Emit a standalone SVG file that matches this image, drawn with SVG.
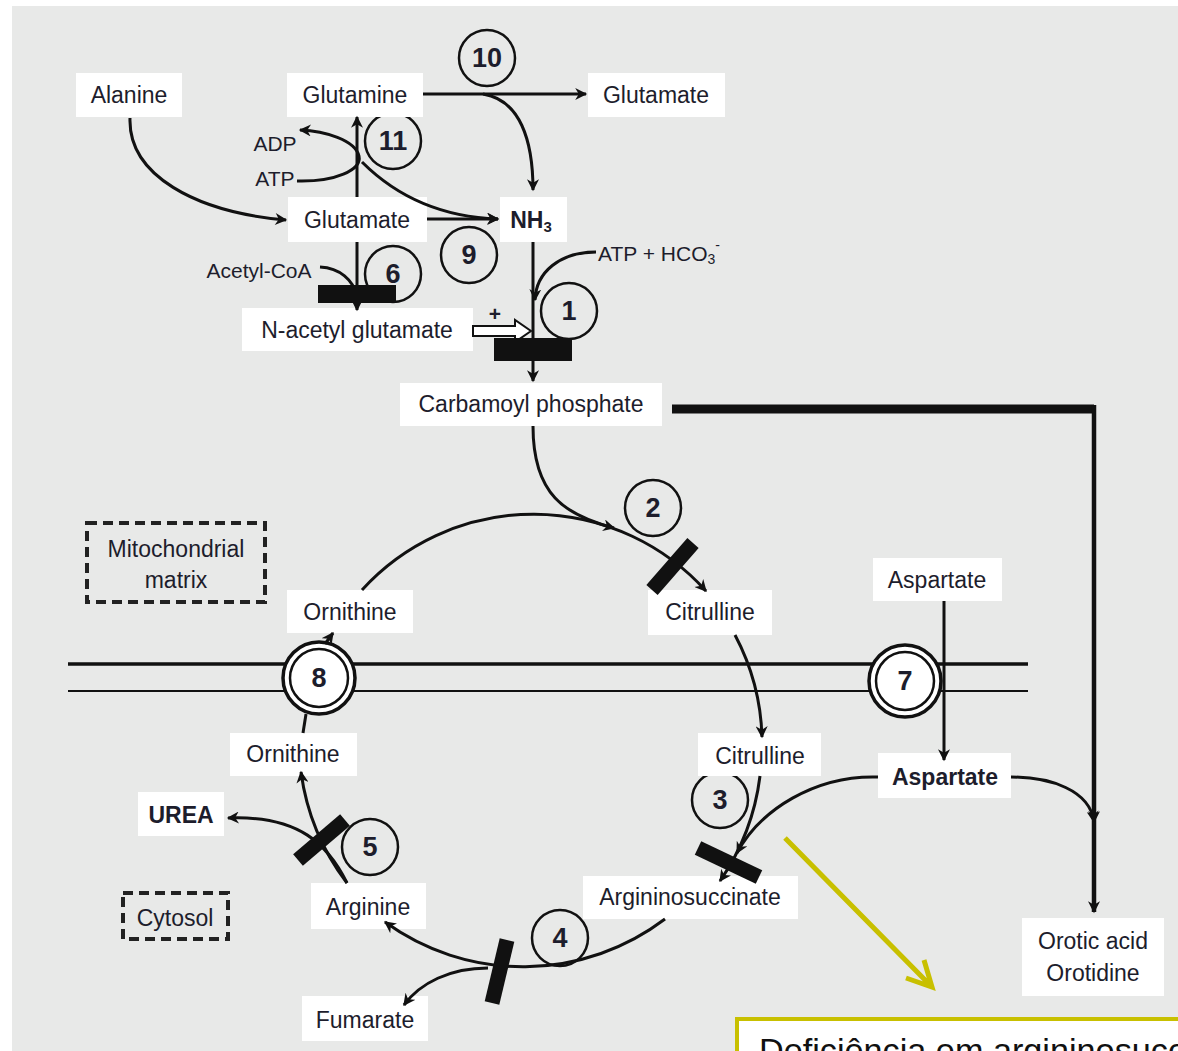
<svg xmlns="http://www.w3.org/2000/svg" width="1178" height="1051" viewBox="0 0 1178 1051">
<defs>
<marker id="ah" viewBox="0 0 10 10" refX="9" refY="5" markerWidth="13" markerHeight="12" markerUnits="userSpaceOnUse" orient="auto"><path d="M0,0 L10,5 L0,10 L3,5 z" fill="#111"/></marker>
<style>
.lbl{fill:#fff}
.t{font-family:"Liberation Sans",Arial,sans-serif;font-size:23px;fill:#1d1d2c;text-anchor:middle;dominant-baseline:central}
.b{font-weight:bold}
.s{font-size:21px}
.n{font-family:"Liberation Sans",Arial,sans-serif;font-size:27px;font-weight:bold;fill:#1d1d2c;text-anchor:middle;dominant-baseline:central}
.c{fill:none;stroke:#111;stroke-width:2.5}
.cw{fill:#fff;stroke:#111}
.ln{fill:none;stroke:#111;stroke-width:3}
.ar{marker-end:url(#ah)}
.bar{stroke:#111;stroke-width:15;stroke-linecap:butt}
.dash{fill:none;stroke:#222;stroke-width:4;stroke-dasharray:10 6}
</style>
</defs>
<rect x="0" y="0" width="1178" height="1051" fill="#fff"/>
<rect x="12" y="6" width="1166" height="1045" fill="#e8e9e8"/>

<!-- membrane -->
<g id="membrane">
<line x1="68" y1="664" x2="1028" y2="664" stroke="#111" stroke-width="3.5"/>
<line x1="68" y1="691" x2="1028" y2="691" stroke="#111" stroke-width="2"/>
</g>

<!-- enzyme circles -->
<g id="enz10"><circle cx="487" cy="58" r="28" class="c"/><text x="487" y="58" class="n">10</text></g>
<g id="enz11"><circle cx="393" cy="141" r="28" class="c"/><text x="393" y="141" class="n">11</text></g>
<g id="enz9"><circle cx="469" cy="255" r="28" class="c"/><text x="469" y="255" class="n">9</text></g>
<g id="enz6"><circle cx="393" cy="274" r="28" class="c"/><text x="393" y="274" class="n">6</text></g>
<g id="enz1"><circle cx="569" cy="311" r="28" class="c"/><text x="569" y="311" class="n">1</text></g>
<g id="enz2"><circle cx="653" cy="508" r="28" class="c"/><text x="653" y="508" class="n">2</text></g>
<g id="enz3"><circle cx="720" cy="800" r="28" class="c"/><text x="720" y="800" class="n">3</text></g>
<g id="enz4"><circle cx="560" cy="938" r="28" class="c"/><text x="560" y="938" class="n">4</text></g>
<g id="enz5"><circle cx="370" cy="847" r="28" class="c"/><text x="370" y="847" class="n">5</text></g>
<g id="enz8"><circle cx="319" cy="678" r="36" class="cw" stroke-width="3.5"/><circle cx="319" cy="678" r="29" class="cw" stroke-width="2.5"/><text x="319" y="678" class="n">8</text></g>
<g id="enz7"><circle cx="905" cy="681" r="36" class="cw" stroke-width="3.5"/><circle cx="905" cy="681" r="29" class="cw" stroke-width="2.5"/><text x="905" y="681" class="n">7</text></g>

<!-- nodes -->
<g id="alanine"><rect x="76" y="73" width="106" height="44" class="lbl"/><text x="129" y="95" class="t">Alanine</text></g>
<g id="glutamine"><rect x="287" y="73" width="136" height="44" class="lbl"/><text x="355" y="95" class="t">Glutamine</text></g>
<g id="glutamate-top"><rect x="588" y="73" width="137" height="44" class="lbl"/><text x="656" y="95" class="t">Glutamate</text></g>
<g id="glutamate-mid"><rect x="288" y="197" width="139" height="45" class="lbl"/><text x="357" y="220" class="t">Glutamate</text></g>
<g id="nh3"><rect x="500" y="197" width="67" height="45" class="lbl"/><text x="531" y="220" class="t b">NH<tspan font-size="15" dy="6">3</tspan></text></g>
<g id="adp"><text x="275" y="143" class="t s">ADP</text></g>
<g id="atp"><text x="275" y="178" class="t s">ATP</text></g>
<g id="acetylcoa"><text x="259" y="270" class="t s">Acetyl-CoA</text></g>
<g id="nag"><rect x="242" y="308" width="231" height="43" class="lbl"/><text x="357" y="330" class="t">N-acetyl glutamate</text></g>
<g id="plus"><text x="495" y="313" class="t b s">+</text></g>
<g id="atphco3"><text x="598" y="253" class="t s" style="text-anchor:start">ATP + HCO<tspan font-size="14" dy="6">3</tspan><tspan font-size="14" dy="-14">-</tspan></text></g>
<g id="carbamoyl"><rect x="400" y="383" width="262" height="43" class="lbl"/><text x="531" y="404" class="t">Carbamoyl phosphate</text></g>
<g id="mito"><rect x="87" y="523" width="178" height="79" class="dash"/><text x="176" y="549" class="t">Mitochondrial</text><text x="176" y="580" class="t">matrix</text></g>
<g id="ornithine-mito"><rect x="287" y="590" width="126" height="43" class="lbl"/><text x="350" y="612" class="t">Ornithine</text></g>
<g id="citrulline-mito"><rect x="648" y="590" width="124" height="45" class="lbl"/><text x="710" y="612" class="t">Citrulline</text></g>
<g id="aspartate-mito"><rect x="873" y="558" width="129" height="43" class="lbl"/><text x="937" y="580" class="t">Aspartate</text></g>
<g id="ornithine-cyto"><rect x="230" y="733" width="127" height="43" class="lbl"/><text x="293" y="754" class="t">Ornithine</text></g>
<g id="citrulline-cyto"><rect x="698" y="733" width="123" height="43" class="lbl"/><text x="760" y="756" class="t">Citrulline</text></g>
<g id="aspartate-cyto"><rect x="878" y="753" width="133" height="45" class="lbl"/><text x="945" y="777" class="t b">Aspartate</text></g>
<g id="urea"><rect x="138" y="792" width="86" height="44" class="lbl"/><text x="181" y="815" class="t b">UREA</text></g>
<g id="cytosol"><rect x="123" y="893" width="105" height="46" class="dash"/><text x="175" y="918" class="t">Cytosol</text></g>
<g id="arginine"><rect x="311" y="883" width="115" height="46" class="lbl"/><text x="368" y="907" class="t">Arginine</text></g>
<g id="argininosuccinate"><rect x="583" y="876" width="215" height="43" class="lbl"/><text x="690" y="897" class="t">Argininosuccinate</text></g>
<g id="orotic"><rect x="1022" y="918" width="142" height="78" class="lbl"/><text x="1093" y="941" class="t">Orotic acid</text><text x="1093" y="973" class="t">Orotidine</text></g>
<g id="fumarate"><rect x="302" y="996" width="126" height="45" class="lbl"/><text x="365" y="1020" class="t">Fumarate</text></g>

<!-- connectors -->
<g id="connectors">
<path d="M423,94 H586" class="ln ar"/>
<path d="M483,94 C 520,100 533,140 533,190" class="ln ar"/>
<path d="M130,118 C 128,175 195,212 286,220" class="ln ar"/>
<path d="M357,197 V117" class="ln ar"/>
<path d="M297,181 C 335,182 362,170 359,156 C 355,140 325,131 300,130" class="ln ar"/>
<path d="M362,162 C 395,195 440,217 498,219" class="ln ar"/>
<path d="M427,219 H498" class="ln ar"/>
<path d="M357,242 V310" class="ln ar"/>
<path d="M320,267 C 340,268 353,280 357,296" class="ln"/>
<path d="M533,242 V345" class="ln"/>
<path d="M596,252 C 560,252 536,272 535,300" class="ln ar"/>
<path d="M533,360 V381" class="ln ar"/>
<path d="M473,326 H515 V320 L531,331 L515,342 V336 H473 Z" fill="#fff" stroke="#111" stroke-width="2"/>
<path d="M533,426 C 533,495 565,515 614,528" class="ln ar"/>
<path d="M362,590 A 232 232 0 0 1 706,591" class="ln ar"/>
<path d="M735,635 A 232 232 0 0 1 762,737" class="ln ar"/>
<path d="M944,601 V760" class="ln ar"/>
<path d="M325,644 L333,633" class="ln ar"/>
<path d="M306,714 L303,733" class="ln"/>
<path d="M760,776 A 236 236 0 0 1 720,881" class="ln ar"/>
<path d="M878,777 C 815,775 760,810 737,853" class="ln ar"/>
<path d="M1011,777 C 1050,777 1090,790 1094,822" class="ln ar"/>
<path d="M672,409 H1094" fill="none" stroke="#111" stroke-width="9"/>
<path d="M1094,405 V822" fill="none" stroke="#111" stroke-width="4.5" marker-end="url(#ah)"/>
<path d="M1094,822 V912" fill="none" stroke="#111" stroke-width="4.5" marker-end="url(#ah)"/>
<path d="M665,919 A 235 235 0 0 1 385,922" class="ln ar"/>
<path d="M488,968 C 450,968 420,983 404,1005" class="ln ar"/>
<path d="M347,883 A 234 234 0 0 1 301,772" class="ln ar"/>
<path d="M347,883 C 328,845 300,815 228,818" class="ln ar"/>
<path d="M785,838 L930,985 M906,978 L932,987 L924,960" fill="none" stroke="#c8c000" stroke-width="5"/>
</g>

<!-- enzyme bars -->
<g id="bars">
<rect x="318" y="285" width="78" height="18" fill="#111"/>
<rect x="494" y="338" width="78" height="23" fill="#111"/>
<line x1="693" y1="543" x2="652" y2="590" class="bar"/>
<line x1="698" y1="848" x2="759" y2="877" class="bar"/>
<line x1="507" y1="940" x2="492" y2="1003" class="bar"/>
<line x1="298" y1="860" x2="345" y2="820" class="bar"/>
</g>

<g id="note"><rect x="737" y="1019" width="470" height="60" fill="#fff" stroke="#c8c000" stroke-width="4"/><text x="759" y="1062" font-family="Liberation Sans, Arial, sans-serif" font-size="34" fill="#111" textLength="426" lengthAdjust="spacingAndGlyphs">Deficiência em argininosucc</text></g>
</svg>
